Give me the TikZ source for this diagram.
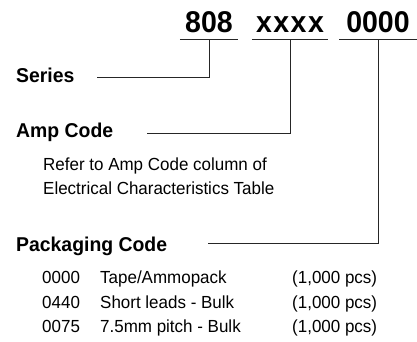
\documentclass[tikz,border=0pt]{standalone}
\usepackage{fontspec}
\setmainfont{Liberation Sans}[FakeStretch=0.97]
\newfontfamily\codefont{Liberation Sans}[FakeStretch=0.95]
\usepackage{tikz}
\usetikzlibrary{positioning, calc}

\begin{document}
\begin{tikzpicture}[
    x=1pt, y=-1pt,
    code/.style={font=\codefont\fontsize{30}{30}\selectfont\bfseries, anchor=base,
        inner xsep=0pt, inner ysep=7pt, text depth=0pt},
    title/.style={font=\fontsize{20}{20}\selectfont\bfseries, anchor=base west, inner sep=0pt},
    body/.style={font=\fontsize{17.5}{18}\selectfont, anchor=base west, inner sep=0pt},
    rule/.style={draw=black!85, line width=0.9pt}
]
\useasboundingbox (0,0) rectangle (417,341);

% Codigo do produto
\node[code, minimum width=58pt] (s808) at (209,32) {808};
\node[code, minimum width=76pt] (sxxxx) at (290,32) {\addfontfeature{LetterSpace=5}xxxx};
\node[code, minimum width=77pt] (s0000) at (378,32) {0000};

\draw[rule] (s808.south west) -- (s808.south east);
\draw[rule] (sxxxx.south west) -- (sxxxx.south east);
\draw[rule] (s0000.south west) -- (s0000.south east);

% Campos
\node[title] (series) at (16,82) {Series};
\node[title] (amp) at (16,137) {Amp Code};
\node[body] (ampa) at (43,170) {Refer to Amp Code column of};
\node[body] (ampb) at (43,194) {Electrical Characteristics Table};
\node[title] (pack) at (16,251) {Packaging Code};

% Tabela de embalagem
\node[body] (c1) at (42,283) {0000};
\node[body] (d1) at (100,283) {Tape/Ammopack};
\node[body] (q1) at (292,283) {(1,000 pcs)};
\node[body] (c2) at (42,308) {0440};
\node[body] (d2) at (100,308) {Short leads - Bulk};
\node[body] (q2) at (292,308) {(1,000 pcs)};
\node[body] (c3) at (42,332) {0075};
\node[body] (d3) at (100,332) {7.5mm pitch - Bulk};
\node[body] (q3) at (292,332) {(1,000 pcs)};

% Ligacoes
\coordinate (series end) at (97,77);
\coordinate (amp end) at (147,133);
\coordinate (pack end) at (208,243);
\draw[rule] (s808.south) |- (series end);
\draw[rule] (sxxxx.south) |- (amp end);
\draw[rule] (s0000.south) |- (pack end);

\end{tikzpicture}
\end{document}
